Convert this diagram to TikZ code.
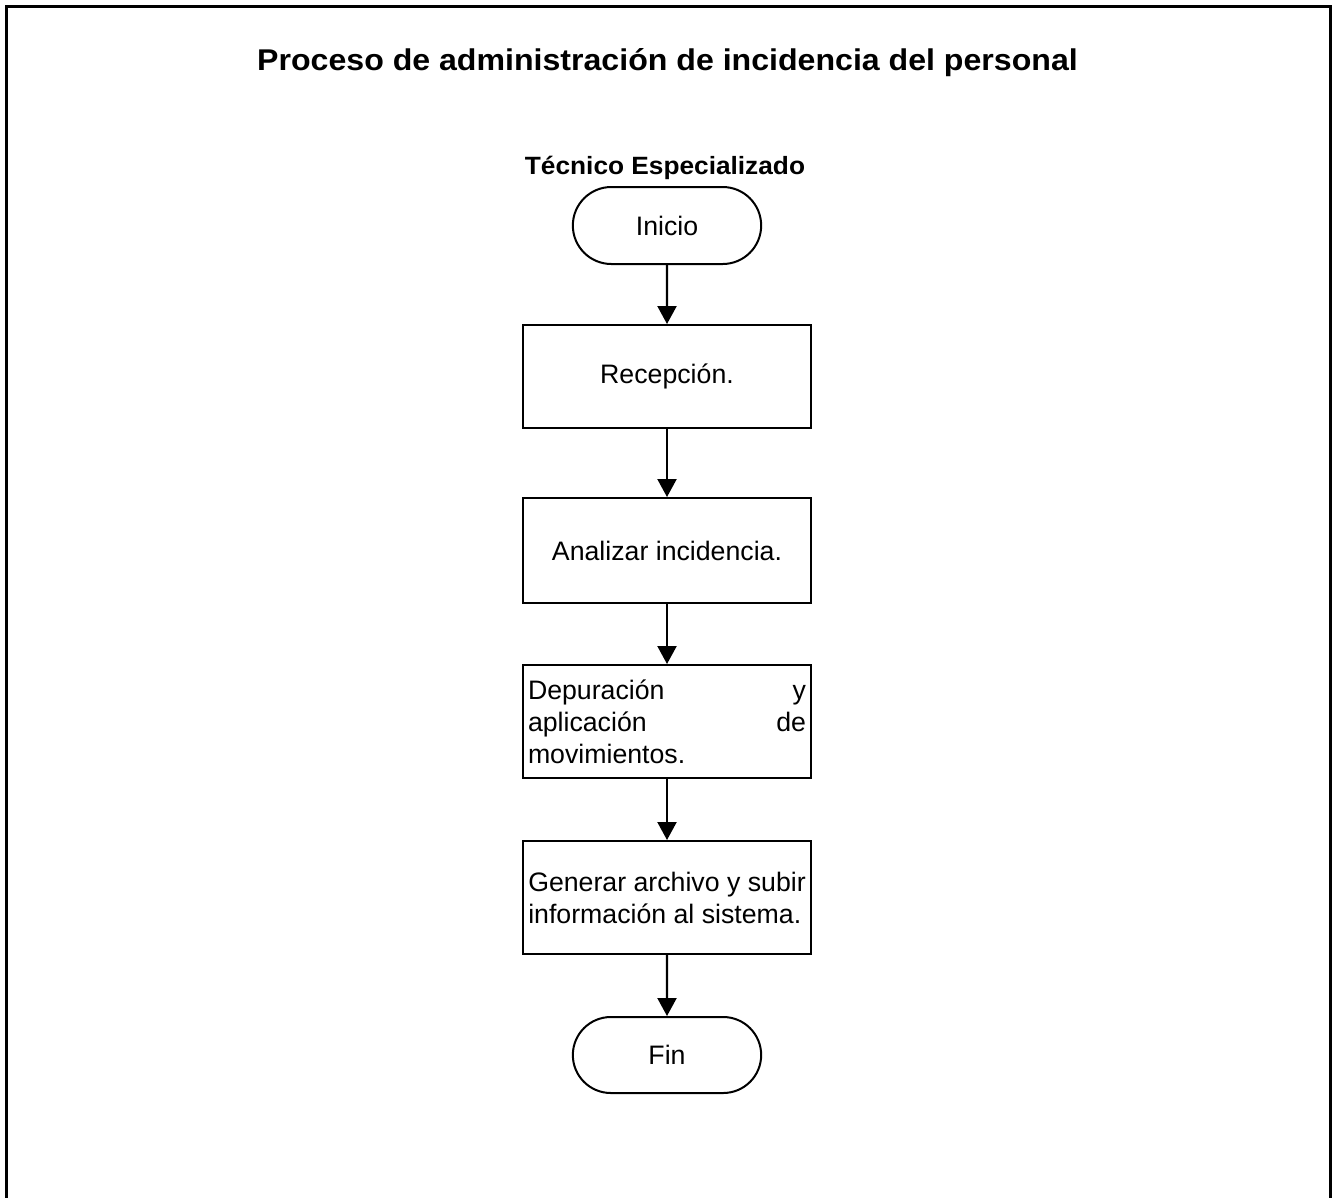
\documentclass[tikz,border=0pt]{standalone}
\usepackage{fontspec}
\setmainfont{Liberation Sans}
\usetikzlibrary{arrows.meta,shapes.misc}

\tikzset{
  body/.style={font=\fontsize{26.7}{32}\selectfont},
  process/.style={draw, line width=2pt, rectangle, minimum width=288pt,
    inner sep=5pt, body},
  terminal/.style={draw, line width=2pt, rounded rectangle, minimum width=195pt,
    minimum height=77pt, body},
  flow/.style={line width=2.2pt, -{Triangle[length=18pt,width=19pt]}},
  frame/.style={line width=3pt},
}

\begin{document}
\begin{tikzpicture}[x=1pt,y=-1pt]
  \useasboundingbox (0,0) rectangle (1335,1197);

  % page frame (continues below the visible area)
  \draw[frame] (6,1210) -- (6,6) -- (1330,6) -- (1330,1210);

  % headings
  \node[anchor=base, inner sep=0pt] (title) at (667.5,70)
    {\scalebox{1.07}[1]{\fontsize{30}{36}\selectfont\bfseries Proceso de administración de incidencia del personal}};
  \node[anchor=base, inner sep=0pt] (role) at (665,174)
    {\scalebox{1.05}[1]{\fontsize{25}{30}\selectfont\bfseries Técnico Especializado}};

  % flow
  \node[terminal] (inicio) at (667,225.5) {Inicio};
  \node[process, minimum height=103pt] (recep) at (667,376.5) {Recepción.};
  \node[process, minimum height=105pt] (analiza) at (667,550.5) {Analizar incidencia.};
  \node[process, minimum height=113pt, text width=278pt, align=justify] (depura) at (667,721.5)
    {Depuración y\linebreak aplicación de\linebreak movimientos.};
  \node[process, minimum height=113pt, align=left] (genera) at (667,897.5)
    {Generar archivo y subir\\información al sistema.};
  \node[terminal, minimum height=76pt] (fin) at (667,1055) {Fin};

  \draw[flow] (inicio) -- (recep);
  \draw[flow] (recep) -- (analiza);
  \draw[flow] (analiza) -- (depura);
  \draw[flow] (depura) -- (genera);
  \draw[flow] (genera) -- (fin);
\end{tikzpicture}
\end{document}
